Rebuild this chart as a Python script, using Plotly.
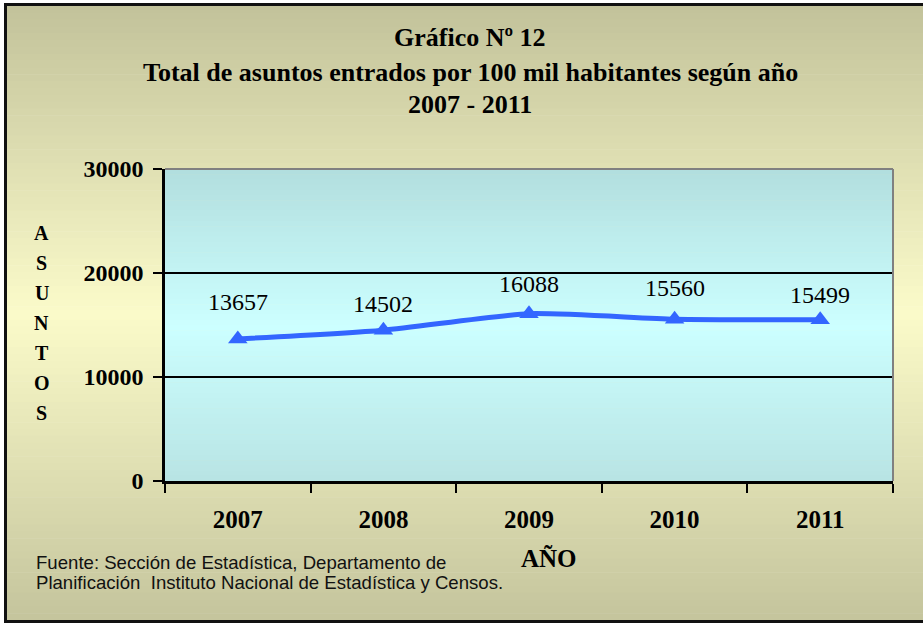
import plotly.graph_objects as go

# ---- data ----
years = ["2007", "2008", "2009", "2010", "2011"]
asuntos = [13657, 14502, 16088, 15560, 15499]
y_ticks = [0, 10000, 20000, 30000]

title_lines = ["Gráfico Nº 12",
               "Total de asuntos entrados por 100 mil habitantes según año",
               "2007 - 2011"]
y_title = "ASUNTOS"
x_title = "AÑO"
source_lines = ["Fuente: Sección de Estadística, Departamento de",
                "Planificación  Instituto Nacional de Estadística y Censos."]

# label offsets (style, pixels above each point)
label_shift = [37, 26, 30, 31, 25]

# ---- geometry (pixels) ----
W, H = 923, 623
L, R, T, B = 165, 893, 169, 481


def px(x):
    return (x - L) / (R - L)


def py(y):
    return (B - y) / (B - T)


def hex2rgb(h):
    h = h.lstrip("#")
    return tuple(int(h[i:i + 2], 16) for i in (0, 2, 4))


def lerp3(stops, t):
    for (p0, c0), (p1, c1) in zip(stops[:-1], stops[1:]):
        if p0 <= t <= p1:
            f = (t - p0) / (p1 - p0) if p1 > p0 else 0
            a, b = hex2rgb(c0), hex2rgb(c1)
            return "rgb(%d,%d,%d)" % tuple(round(a[i] + (b[i] - a[i]) * f) for i in range(3))
    return stops[-1][1]


shapes = []
# paper gradient
paper_stops = [(0.0, "#c2c29a"), (0.5, "#fbfbca"), (1.0, "#c4c49c")]
top, bot = 6, 620
n = 90
for i in range(n):
    y0 = top + (bot - top) * i / n
    y1 = top + (bot - top) * (i + 1) / n + 0.6
    t = (i + 0.5) / n
    shapes.append(dict(type="rect", xref="paper", yref="paper",
                       x0=px(6), x1=px(940), y0=py(y1), y1=py(y0),
                       fillcolor=lerp3(paper_stops, t), line=dict(width=0),
                       layer="below"))
# plot-area gradient
plot_stops = [(0.0, "#b2dede"), (0.5, "#ccffff"), (1.0, "#b8e4e4")]
n = 60
for i in range(n):
    y0 = T + (B - T) * i / n
    y1 = T + (B - T) * (i + 1) / n + 0.6
    t = (i + 0.5) / n
    shapes.append(dict(type="rect", xref="paper", yref="paper",
                       x0=0, x1=1, y0=py(min(y1, B)), y1=py(y0),
                       fillcolor=lerp3(plot_stops, t), line=dict(width=0),
                       layer="below"))
# gray top/right plot border
shapes.append(dict(type="line", xref="paper", yref="paper", x0=0, x1=1, y0=1, y1=1,
                   line=dict(color="#808080", width=2), layer="above"))
shapes.append(dict(type="line", xref="paper", yref="paper", x0=1, x1=1, y0=0, y1=1,
                   line=dict(color="#808080", width=2), layer="above"))
# outer frame: left, top, bottom (right edge lies outside the picture)
frame = dict(color="#111111", width=3)
shapes.append(dict(type="line", xref="paper", yref="paper", x0=px(5.5), x1=px(5.5),
                   y0=py(621.5), y1=py(4.5), line=frame, layer="above"))
shapes.append(dict(type="line", xref="paper", yref="paper", x0=px(4), x1=px(950),
                   y0=py(4.5), y1=py(4.5), line=frame, layer="above"))
shapes.append(dict(type="line", xref="paper", yref="paper", x0=px(4), x1=px(950),
                   y0=py(621.5), y1=py(621.5), line=frame, layer="above"))

fig = go.Figure()
fig.add_trace(go.Scatter(
    x=years, y=asuntos, mode="lines+markers",
    line=dict(color="#3366ff", width=5, shape="spline", smoothing=0.6),
    marker=dict(symbol="triangle-up", size=17, color="#3366ff"),
    hoverinfo="x+y", showlegend=False,
))

annotations = []
# data labels (category axis -> index positions)
for i, v in enumerate(asuntos):
    annotations.append(dict(x=i, y=v, xref="x", yref="y", text=str(v),
                            showarrow=False, yshift=label_shift[i],
                            font=dict(family="Liberation Serif", size=24, color="black")))
# title lines
for txt, yc in zip(title_lines, [38, 72, 104]):
    annotations.append(dict(x=px(470), y=py(yc), xref="paper", yref="paper",
                            text=txt, showarrow=False, xanchor="center", yanchor="middle",
                            font=dict(family="Liberation Serif", size=26, color="black",
                                      weight="bold")))
# vertical y title, letter by letter
for k, ch in enumerate(y_title):
    annotations.append(dict(x=px(42), y=py(233 + k * 30), xref="paper", yref="paper",
                            text=ch, showarrow=False, xanchor="center", yanchor="middle",
                            font=dict(family="Liberation Serif", size=20, color="black",
                                      weight="bold")))
# x title
annotations.append(dict(x=px(549), y=py(558), xref="paper", yref="paper", text=x_title,
                        showarrow=False, xanchor="center", yanchor="middle",
                        font=dict(family="Liberation Serif", size=25, color="black",
                                  weight="bold")))
# source note
for txt, yc in zip(source_lines, [562, 582]):
    annotations.append(dict(x=px(34), y=py(yc), xref="paper", yref="paper", text=txt,
                            showarrow=False, xanchor="left", yanchor="middle", align="left",
                            font=dict(family="Liberation Sans", size=18.6, color="#111111")))

fig.update_layout(
    width=W, height=H,
    margin=dict(l=L, r=W - R, t=T, b=H - B, pad=0),
    paper_bgcolor="white",
    plot_bgcolor="rgba(0,0,0,0)",
    shapes=shapes,
    annotations=annotations,
    xaxis=dict(type="category", tickson="boundaries", ticks="outside", ticklen=9,
               tickwidth=2, tickcolor="black", showline=True, linecolor="black",
               linewidth=3, showgrid=False, ticklabelstandoff=14,
               tickfont=dict(family="Liberation Serif", size=25, color="black",
                             weight="bold"),
               range=[-0.5, 4.5], fixedrange=True),
    yaxis=dict(range=[0, 30000], tickvals=y_ticks, tickformat="d", ticks="outside",
               ticklen=9, tickwidth=2, tickcolor="black", showline=True,
               linecolor="black", linewidth=2.5, showgrid=True, gridcolor="black",
               gridwidth=2, zeroline=False, ticklabelstandoff=5,
               tickfont=dict(family="Liberation Serif", size=24, color="black",
                             weight="bold"),
               fixedrange=True),
)

fig.write_html("out.html", config={"displayModeBar": False},
               post_script="document.body.style.margin='0';document.body.style.padding='0';")
